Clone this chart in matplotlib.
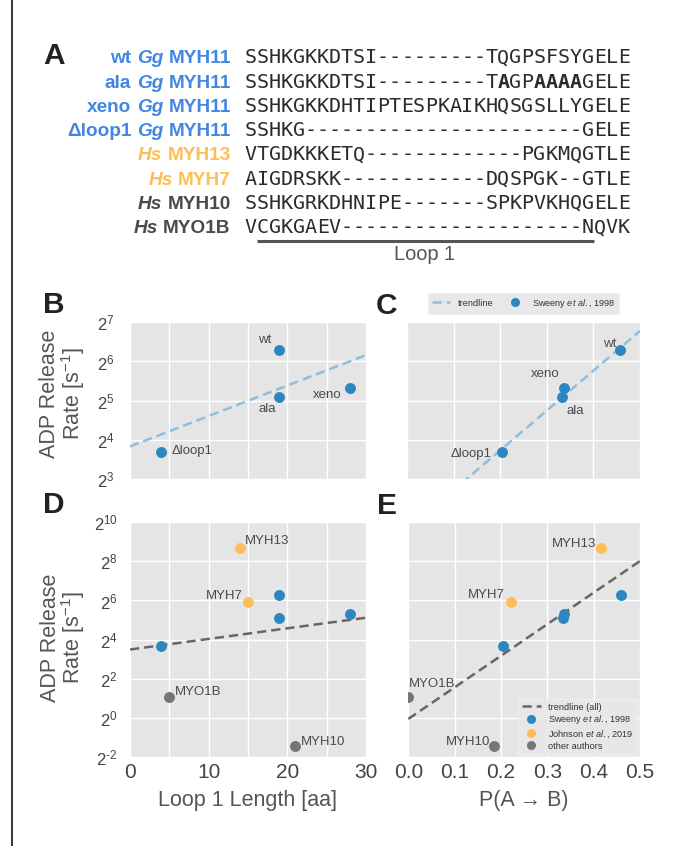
import numpy as np
import matplotlib
matplotlib.use('Agg')
import matplotlib.pyplot as plt
from matplotlib.lines import Line2D
from matplotlib.ticker import FixedLocator, NullLocator, FixedFormatter, NullFormatter

# ---------------- data ----------------
names = ['wt', 'ala', 'xeno', 'Δloop1', 'MYH13', 'MYH7', 'MYH10', 'MYO1B']
source = ['sweeney', 'sweeney', 'sweeney', 'sweeney', 'johnson', 'johnson', 'other', 'other']
loop_length = [19, 19, 28, 4, 14, 15, 21, 5]
p_a_to_b = [0.458, 0.333, 0.337, 0.204, 0.416, 0.2225, 0.186, 0.0]
adp_rate = [79, 34, 40, 13, 410, 60, 0.37, 2.1]

# trendlines: log2(rate) = slope * x + intercept
trend_b = (0.0778, 3.83)
trend_c = (10.15, 1.706)
trend_d = (0.054, 3.50)
trend_e = (16.1, -0.04)

yexp_bc = [3, 4, 5, 6, 7]
yexp_de = [-2, 0, 2, 4, 6, 8, 10]
xticks_len = [0, 10, 20, 30]
xminor_len = [5, 15, 25]
xticks_p = [0.0, 0.1, 0.2, 0.3, 0.4, 0.5]
xticklabels_p = ['0.0', '0.1', '0.2', '0.3', '0.4', '0.5']

seq_label_pieces = [
    [('wt', False), ('Gg', True), ('MYH11', False)],
    [('ala', False), ('Gg', True), ('MYH11', False)],
    [('xeno', False), ('Gg', True), ('MYH11', False)],
    [('Δloop1', False), ('Gg', True), ('MYH11', False)],
    [('Hs', True), ('MYH13', False)],
    [('Hs', True), ('MYH7', False)],
    [('Hs', True), ('MYH10', False)],
    [('Hs', True), ('MYO1B', False)],
]
seq_label_group = ['gg', 'gg', 'gg', 'gg', 'johnson', 'johnson', 'other', 'other']
sequences = [
    'SSHKGKKDTSI---------TQGPSFSYGELE',
    'SSHKGKKDTSI---------TAGPAAAAGELE',
    'SSHKGKKDHTIPTESPKAIKHQSGSLLYGELE',
    'SSHKG-----------------------GELE',
    'VTGDKKKETQ-------------PGKMQGTLE',
    'AIGDRSKK------------DQSPGK--GTLE',
    'SSHKGRKDHNIPE-------SPKPVKHQGELE',
    'VCGKGAEV--------------------NQVK',
]
seq_bold = [[], [21, 24, 25, 26, 27], [], [], [], [], [], []]

# ---------------- style ----------------
plt.rcParams['font.family'] = ['Liberation Sans', 'DejaVu Sans']
plt.rcParams['mathtext.fontset'] = 'custom'
plt.rcParams['mathtext.rm'] = 'Liberation Sans'
plt.rcParams['mathtext.it'] = 'Liberation Sans:italic'
plt.rcParams['mathtext.bf'] = 'Liberation Sans:bold'
plt.rcParams['mathtext.sf'] = 'Liberation Sans'

W, H = 673, 846
fig = plt.figure(figsize=(W / 100, H / 100), dpi=100)
fig.patch.set_facecolor('white')
renderer = fig.canvas.get_renderer()

col_src = {'sweeney': '#2e86c1', 'johnson': '#fdbe58', 'other': '#767676'}
col_lab = {'gg': '#4286e2', 'johnson': '#fdbe55', 'other': '#4a4a4a'}
TXT = '#4d4d4d'
BG = '#e5e5e5'


def fx(x):
    return x / W


def fy(y):
    return 1 - y / H


def add_ax(l, t, r, b):
    ax = fig.add_axes([l / W, 1 - b / H, (r - l) / W, (b - t) / H])
    ax.set_facecolor(BG)
    for s in ax.spines.values():
        s.set_visible(False)
    ax.set_axisbelow(True)
    ax.tick_params(which='both', length=0, colors=TXT)
    return ax


def pow2_label(e):
    if e < 0:
        return '$2^{\\text{-%d}}$' % (-e)
    return '$2^{%d}$' % e


# border line at left
fig.add_artist(Line2D([fx(12), fx(12)], [0, 1], color='black', lw=1.1))

# ---------------- panel A ----------------
fig.text(fx(43), fy(64.3), 'A', fontsize=21.5, fontweight='bold', color='#222222', va='baseline', ha='left')
row0, drow = 63.3, 24.29
lab_fs = 13.7
space_px = 0.278 * lab_fs * 100 / 72
seq_fs = 14.4
char_px = 0.60205 * seq_fs * 100 / 72
seq_x0 = 244.5
for i, pieces in enumerate(seq_label_pieces):
    yb = row0 + i * drow
    x = 230.7
    color = col_lab[seq_label_group[i]]
    for j, (txt, ital) in enumerate(reversed(pieces)):
        t = fig.text(fx(x), fy(yb), txt, ha='right', va='baseline', fontsize=lab_fs,
                     fontweight='bold', fontstyle='italic' if ital else 'normal', color=color)
        bb = t.get_window_extent(renderer)
        x = bb.x0 - space_px
    seq = sequences[i]
    bold = seq_bold[i]
    for k, ch in enumerate(seq):
        fig.text(fx(seq_x0 + k * char_px), fy(yb), ch, ha='left', va='baseline',
                 fontsize=seq_fs, family='DejaVu Sans Mono', color='#2b2b2b',
                 fontweight='bold' if k in bold else 'normal')

fig.add_artist(Line2D([fx(257), fx(594)], [fy(241), fy(241)], color='#555555', lw=2.2,
                      solid_capstyle='butt'))
fig.text(fx(425), fy(259.5), 'Loop 1', ha='center', va='baseline', fontsize=14.4, color='#555555')

# ---------------- panels ----------------
x_len = np.array(loop_length, dtype=float)
x_p = np.array(p_a_to_b, dtype=float)
rate = np.array(adp_rate, dtype=float)
src = np.array(source)

dash = (3.7, 2.0)


def setup_y(ax, exps, labels=True, pad=10):
    ax.set_yscale('log', base=2)
    ax.set_ylim(2.0 ** exps[0], 2.0 ** exps[-1])
    ax.yaxis.set_major_locator(FixedLocator([2.0 ** e for e in exps]))
    ax.yaxis.set_minor_locator(NullLocator())
    if labels:
        ax.yaxis.set_major_formatter(FixedFormatter([pow2_label(e) for e in exps]))
        ax.tick_params(axis='y', labelsize=12, pad=pad, labelcolor='#444444')
    else:
        ax.yaxis.set_major_formatter(NullFormatter())
    ax.yaxis.set_minor_formatter(NullFormatter())


def setup_x_len(ax, labels):
    ax.set_xlim(0, 30)
    ax.xaxis.set_major_locator(FixedLocator(xticks_len))
    ax.xaxis.set_minor_locator(FixedLocator(xminor_len))
    ax.xaxis.set_minor_formatter(NullFormatter())
    if labels:
        ax.set_xticklabels([str(v) for v in xticks_len])
        ax.tick_params(axis='x', labelsize=15, pad=4, labelcolor='#444444')
    else:
        ax.xaxis.set_major_formatter(NullFormatter())


def setup_x_p(ax, labels):
    ax.set_xlim(0, 0.5)
    ax.xaxis.set_major_locator(FixedLocator(xticks_p))
    ax.xaxis.set_minor_locator(NullLocator())
    if labels:
        ax.xaxis.set_major_formatter(FixedFormatter(xticklabels_p))
        ax.tick_params(axis='x', labelsize=15, pad=4, labelcolor='#444444')
    else:
        ax.xaxis.set_major_formatter(NullFormatter())


def grid(ax):
    ax.grid(True, which='both', color='white', lw=1.0)


def trend(ax, coef, color):
    xs = np.array(ax.get_xlim())
    ax.plot(xs, 2.0 ** (coef[0] * xs + coef[1]), ls='--', dashes=dash, color=color, lw=1.8, zorder=2)


def scatter(ax, xv, groups):
    for g in groups:
        m = src == g
        ax.scatter(xv[m], rate[m], s=62, color=col_src[g], linewidths=0, zorder=3)


def annotate(ax, xv, spec):
    for i, nm in enumerate(names):
        if nm in spec:
            ha, dx, dy = spec[nm]
            ax.annotate(nm, (xv[i], rate[i]), xytext=(dx * 0.72, dy * 0.72), textcoords='offset points',
                        ha=ha, va='baseline', fontsize=9.5, color='#4a4a4a', zorder=4)


ann_b = {'wt': ('right', -7.6, 6.3), 'ala': ('right', -3.3, -14.7),
         'xeno': ('right', -8.7, -10.3), 'Δloop1': ('left', 10, -2.3)}
ann_c = {'wt': ('right', -4.3, 2.6), 'xeno': ('right', -4.3, 10.7),
         'ala': ('left', 4.4, -16.7), 'Δloop1': ('right', -10.6, -5)}
ann_d = {'MYH13': ('left', 4.7, 3.7), 'MYH7': ('right', -5.6, 3.3),
         'MYO1B': ('left', 6, 1.7), 'MYH10': ('left', 5.3, 1.7)}
ann_e = {'MYH13': ('right', -5, 1), 'MYH7': ('right', -6.3, 4.7),
         'MYO1B': ('left', 0.7, 10.3), 'MYH10': ('right', -4.3, 1.7)}

trend_blue = '#8dbfdc'
trend_gray = '#666666'

# B
axB = add_ax(130, 322.3, 366, 479)
setup_y(axB, yexp_bc, True, pad=11)
setup_x_len(axB, False)
grid(axB)
trend(axB, trend_b, trend_blue)
scatter(axB, x_len, ['sweeney'])
annotate(axB, x_len, ann_b)

# C
axC = add_ax(407.3, 322.3, 640, 479)
setup_y(axC, yexp_bc, False)
setup_x_p(axC, False)
grid(axC)
trend(axC, trend_c, trend_blue)
scatter(axC, x_p, ['sweeney'])
annotate(axC, x_p, ann_c)
hC = [Line2D([], [], ls='--', dashes=dash, color=trend_blue, lw=1.8),
      Line2D([], [], ls='', marker='o', color=col_src['sweeney'], markersize=6.5, markeredgewidth=0)]
legC = axC.legend(hC, ['trendline', 'Sweeny $\\mathit{et\\ al.}$, 1998'], ncol=2, loc='lower center',
                  bbox_to_anchor=(0.5, 1.025), fontsize=6.6, frameon=True, facecolor='#e8e8e8',
                  edgecolor='#f0f0f0', framealpha=1, handlelength=2.0, columnspacing=1.4,
                  borderpad=0.45, fancybox=True)
for t in legC.get_texts():
    t.set_color('#333333')

# D
axD = add_ax(130, 522, 366, 757.4)
setup_y(axD, yexp_de, True, pad=9)
setup_x_len(axD, True)
grid(axD)
trend(axD, trend_d, trend_gray)
scatter(axD, x_len, ['sweeney', 'johnson', 'other'])
annotate(axD, x_len, ann_d)
axD.set_xlabel('Loop 1 Length [aa]', fontsize=15.5, color='#555555', labelpad=6)

# E
axE = add_ax(408.3, 522, 640, 757.4)
setup_y(axE, yexp_de, False)
setup_x_p(axE, True)
grid(axE)
trend(axE, trend_e, trend_gray)
scatter(axE, x_p, ['sweeney', 'johnson', 'other'])
annotate(axE, x_p, ann_e)
axE.set_xlabel('P(A → B)', fontsize=15.5, color='#555555', labelpad=6)
hE = [Line2D([], [], ls='--', dashes=dash, color=trend_gray, lw=1.8),
      Line2D([], [], ls='', marker='o', color=col_src['sweeney'], markersize=6.5, markeredgewidth=0),
      Line2D([], [], ls='', marker='o', color=col_src['johnson'], markersize=6.5, markeredgewidth=0),
      Line2D([], [], ls='', marker='o', color=col_src['other'], markersize=6.5, markeredgewidth=0)]
legE = axE.legend(hE, ['trendline (all)', 'Sweeny $\\mathit{et\\ al.}$, 1998',
                       'Johnson $\\mathit{et\\ al.}$, 2019', 'other authors'],
                  loc='lower right', fontsize=6.6, frameon=True, facecolor='#e8e8e8',
                  edgecolor='#f0f0f0', framealpha=0.9, handlelength=2.0, labelspacing=0.2,
                  borderpad=0.45, borderaxespad=0.3)
for t in legE.get_texts():
    t.set_color('#333333')

# y labels (two lines) and panel letters
for xc, yc in [(63, 393.5), (63.5, 637.5)]:
    fig.text(fx(xc), fy(yc), 'ADP Release\nRate [s$^{-1}$]', rotation=90, ha='center', va='center',
             multialignment='center', fontsize=15.5, color='#555555', linespacing=0.93)

for letter, x, yb in [('B', 43, 313), ('C', 376, 314), ('D', 43, 513), ('E', 377, 514)]:
    fig.text(fx(x), fy(yb), letter, fontsize=21.5, fontweight='bold', color='#222222',
             va='baseline', ha='left')

fig.savefig('out.png', dpi=100, facecolor='white')
